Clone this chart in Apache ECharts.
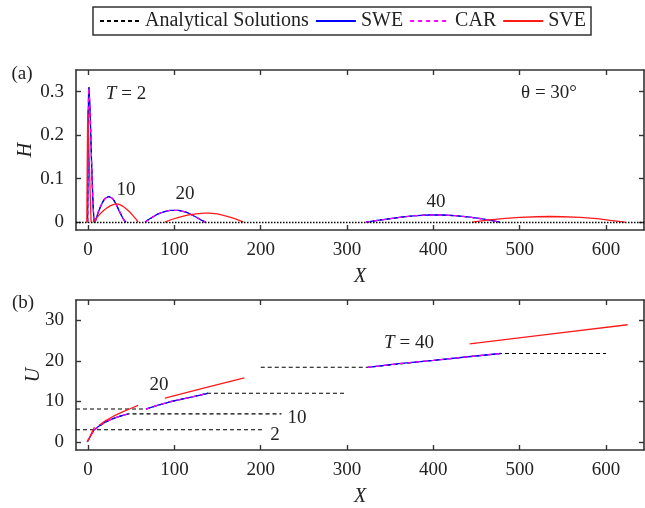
<!DOCTYPE html>
<html><head><meta charset="utf-8">
<script src="https://cdn.jsdelivr.net/npm/echarts@6/dist/echarts.min.js"></script>
<style>html,body{margin:0;padding:0;background:#fff}#c{width:645px;height:508px}</style>
</head><body><div id="c"></div>
<script>
// ---- tick labels ----
const xTicks = [0, 100, 200, 300, 400, 500, 600];
const hTicks = [0, 0.1, 0.2, 0.3];
const uTicks = [0, 10, 20, 30];
const seriesNames = ['Analytical Solutions', 'SWE', 'CAR', 'SVE'];
const timeLabels = ['2', '10', '20', '40'];

// ---- panel (a): depth H ----
const hAnaT2 = [[-0.5,0],[0,0.15],[0.5,0.29],[1,0.31],[2,0.27],[3,0.21],[4,0.14],[5,0.08],[6,0.03],[7,0]];
const hAnaT10 = [[8,0],[10,0.012],[12,0.024],[14,0.034],[16,0.043],[18,0.05],[20,0.055],[22,0.058],[24,0.059],[26,0.058],[28,0.055],[30,0.05],[32,0.043],[34,0.035],[36,0.026],[38,0.018],[40,0.01],[42,0.004],[44,0]];
const hAnaT20 = [[66,0],[70,0.006],[75,0.012],[80,0.018],[85,0.022],[90,0.025],[95,0.027],[100,0.027],[105,0.027],[110,0.025],[115,0.022],[120,0.017],[125,0.012],[130,0.006],[136,0]];
const hAnaT40 = [[322,0],[335,0.004],[350,0.008],[365,0.012],[380,0.015],[395,0.0165],[410,0.0165],[425,0.015],[440,0.012],[455,0.008],[467,0.004],[477,0]];

const hSweT2 = hAnaT2, hSweT10 = hAnaT10, hSweT20 = hAnaT20, hSweT40 = hAnaT40;
const hCarT2 = hAnaT2, hCarT10 = hAnaT10, hCarT20 = hAnaT20, hCarT40 = hAnaT40;

const hSveT2 = [[-1.5,0],[-1,0.13],[-0.4,0.258],[0.5,0.2],[1.5,0.13],[2.5,0.06],[3.5,0]];
const hSveT10 = [[6,0],[10,0.01],[14,0.019],[18,0.027],[22,0.033],[26,0.038],[30,0.041],[33,0.042],[36,0.041],[40,0.037],[44,0.031],[48,0.024],[52,0.015],[56,0.006],[58,0]];
const hSveT20 = [[89,0],[95,0.005],[105,0.011],[115,0.016],[125,0.019],[135,0.021],[140,0.021],[150,0.019],[160,0.014],[170,0.008],[180,0]];
const hSveT40 = [[445,0],[460,0.004],[480,0.008],[500,0.011],[520,0.0125],[535,0.013],[550,0.0125],[570,0.011],[590,0.008],[605,0.004],[622,0]];

// ---- panel (b): velocity U ----
const uAnaT2 = [[-14,3],[203,3]];
const uAnaT10 = [[7.3,3.0],[21,5.0],[32,6.0],[46.6,6.9],[224,6.9]];
const uAnaT20 = [[-14,8.1],[67,8.1],[95,9.9],[139,12],[300,12]];
const uAnaT40 = [[200,18.4],[324,18.4],[400,20.1],[478,21.8],[600,21.8]];

const uSweT2 = [[-1,0],[7,3]];
const uSweT10 = [[7.3,3.0],[12,3.8],[16,4.4],[21,5.0],[26,5.5],[32,6.0],[38,6.4],[46.6,6.9]];
const uSweT20 = [[67,8.1],[80,9],[95,9.9],[110,10.6],[125,11.3],[139,12]];
const uSweT40 = [[324,18.4],[360,19.3],[400,20.1],[440,21],[478,21.8]];

const uCarT2 = uSweT2, uCarT10 = uSweT10, uCarT20 = uSweT20;
const uCarT40 = [[324,18.4],[360,19.3],[400,20.1],[440,21],[480,21.85]];

const uSveT2 = [[-0.8,0],[7.3,3.6]];
const uSveT10 = [[12.7,4.1],[20,5.2],[30,6.4],[40,7.4],[50,8.3],[58,9.0]];
const uSveT20 = [[89,10.8],[135,13.3],[181,15.8]];
const uSveT40 = [[442,24.2],[535,26.6],[625,28.9]];

// ---- build ----
function join(...segs){ const out=[]; segs.forEach((s,i)=>{ if(i) out.push([null,null]); s.forEach(p=>out.push(p)); }); return out; }
const FONT = 'Liberation Serif';
const AX = '#333';
const styles = {
  'Analytical Solutions': {color:'#000', type:[4,3], width:1.1},
  'SWE': {color:'#0000ff', type:'solid', width:1.3},
  'CAR': {color:'#ff00ff', type:[4,4], width:1.3},
  'SVE': {color:'#ff1a1a', type:'solid', width:1.3}
};
function mk(name, data, xi, yi, extra){
  return Object.assign({name, type:'line', data, xAxisIndex:xi, yAxisIndex:yi, symbol:'none', showSymbol:false,
    connectNulls:false, silent:true, animation:false, itemStyle:{color:styles[name].color},
    lineStyle:{color:styles[name].color, type:styles[name].type, width:styles[name].width}}, extra||{});
}
const series = [
  mk('Analytical Solutions', join(hAnaT2,hAnaT10,hAnaT20,hAnaT40), 0, 0, {
    markLine:{silent:true, symbol:'none', label:{show:false}, data:[{yAxis:0}], lineStyle:{color:'#000', type:[1.5,1.5], width:1.3}, animation:false}}),
  mk('SWE', join(hSweT2,hSweT10,hSweT20,hSweT40), 0, 0),
  mk('CAR', join(hCarT2,hCarT10,hCarT20,hCarT40), 0, 0),
  mk('SVE', join(hSveT2,hSveT10,hSveT20,hSveT40), 0, 0),
  mk('Analytical Solutions', join(uAnaT2,uAnaT10,uAnaT20,uAnaT40), 2, 2),
  mk('SWE', join(uSweT2,uSweT10,uSweT20,uSweT40), 2, 2),
  mk('CAR', join(uCarT2,uCarT10,uCarT20,uCarT40), 2, 2),
  mk('SVE', join(uSveT2,uSveT10,uSveT20,uSveT40), 2, 2)
];
const labelStyle = {fontFamily:FONT, fontSize:19, color:'#222'};
function xAx(gi, pos, show){
  return {type:'value', gridIndex:gi, position:pos, min:-14, max:644,
    axisLine:{show:true, onZero:false, lineStyle:{color:AX, width:1.6}},
    axisTick:{show:true, inside:true, length:5, customValues:xTicks, lineStyle:{color:AX, width:1.4}},
    axisLabel:{show:show, customValues:xTicks, margin:11, ...labelStyle},
    splitLine:{show:false},
    name: show ? 'X' : '', nameLocation:'middle', nameGap:37, nameMoveOverlap:false,
    nameTextStyle:{fontFamily:FONT, fontSize:20, fontStyle:'italic', color:'#222'}};
}
function yAx(gi, pos, show, mn, mx, ticks, nm, gap){
  return {type:'value', gridIndex:gi, position:pos, min:mn, max:mx,
    axisLine:{show:true, onZero:false, lineStyle:{color:AX, width:1.6}},
    axisTick:{show:true, inside:true, length:5, customValues:ticks, lineStyle:{color:AX, width:1.4}},
    axisLabel:{show:show, customValues:ticks, margin:12, ...labelStyle},
    splitLine:{show:false},
    name: show ? nm : '', nameLocation:'middle', nameGap:gap, nameRotate:90, nameMoveOverlap:false,
    nameTextStyle:{fontFamily:FONT, fontSize:20, fontStyle:'italic', color:'#222'}};
}
function txt(x, y, text, rich){
  return {type:'text', x, y, silent:true, style:{text, x:0, y:0, align:'center', verticalAlign:'middle',
    font:'19px "Liberation Serif"', fill:'#222', rich: rich||{}}};
}
const ital = {i:{fontStyle:'italic', fontFamily:FONT, fontSize:19, fill:'#222'}, n:{fontFamily:FONT, fontSize:19, fill:'#222'}};
const option = {
  backgroundColor:'#fff',
  animation:false,
  legend:{data:seriesNames, left:93, top:7, itemWidth:40, itemHeight:10, itemGap:6,
    padding:[4,5,4,6], borderColor:'#333', borderWidth:1.5, borderRadius:0,
    itemStyle:{opacity:0},
    textStyle:{fontFamily:FONT, fontSize:20, color:'#222'}, selectedMode:false},
  grid:[
    {left:76, right:1, top:70, height:160, containLabel:false},
    {left:76, right:1, top:300, height:154, containLabel:false}
  ],
  xAxis:[xAx(0,'bottom',true), xAx(0,'top',false), xAx(1,'bottom',true), xAx(1,'top',false)],
  yAxis:[
    yAx(0,'left',true,-0.018,0.35,hTicks,'H',40),
    yAx(0,'right',false,-0.018,0.35,hTicks,'',0),
    yAx(1,'left',true,-2,35,uTicks,'U',32),
    yAx(1,'right',false,-2,35,uTicks,'',0)
  ],
  series,
  graphic:[
    txt(22, 74, '(a)'),
    txt(23, 303, '(b)'),
    txt(126, 94, '{i|T}{n| = ' + timeLabels[0] + '}', ital),
    txt(549, 93, 'θ = 30°'),
    txt(126, 190, timeLabels[1]),
    txt(185, 194, timeLabels[2]),
    txt(436, 202, timeLabels[3]),
    txt(409, 343, '{i|T}{n| = ' + timeLabels[3] + '}', ital),
    txt(159, 385, timeLabels[2]),
    txt(297, 418, timeLabels[1]),
    txt(275, 435, timeLabels[0])
  ]
};
const chart = echarts.init(document.getElementById('c'), null, {renderer:'canvas'});
chart.setOption(option);
</script></body></html>
